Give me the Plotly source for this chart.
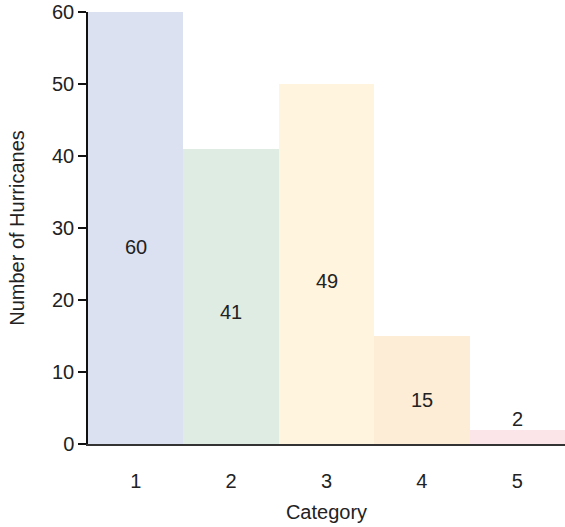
import plotly.graph_objects as go

categories = [1, 2, 3, 4, 5]
counts = [60, 41, 50, 15, 2]
labels = ["60", "41", "49", "15", "2"]
colors = ["#dce1f1", "#deece3", "#fff4dd", "#fdecd6", "#fce5e8"]
y_ticks = [0, 10, 20, 30, 40, 50, 60]

FONT = "Liberation Sans, Arial, sans-serif"
FS = 20

fig = go.Figure()
fig.add_trace(go.Bar(
    x=categories, y=counts, marker=dict(color=colors, line=dict(width=0)),
    width=1.0, hoverinfo="skip",
))

for c, v, t in zip(categories, counts, labels):
    if v >= 10:
        fig.add_annotation(x=c, y=v * 0.47 - 0.9, text=t, showarrow=False,
                           font=dict(size=FS, color="#222", family=FONT),
                           yanchor="middle")
    else:
        fig.add_annotation(x=c, y=v, text=t, showarrow=False,
                           font=dict(size=FS, color="#222", family=FONT),
                           yanchor="bottom", yshift=-2)

fig.update_layout(
    width=565, height=527,
    margin=dict(l=88, r=0, t=12, b=83),
    plot_bgcolor="white", paper_bgcolor="white",
    showlegend=False, bargap=0,
    font=dict(family=FONT, size=FS, color="#222"),
    xaxis=dict(
        range=[0.5, 5.5], tickvals=categories, ticktext=[str(c) for c in categories],
        showgrid=False, zeroline=False, showline=True, linecolor="#333", linewidth=2,
        ticks="", ticklabelstandoff=18,
        title=dict(text="Category", font=dict(size=FS, color="#222"), standoff=14),
        tickfont=dict(size=FS, color="#222"),
    ),
    yaxis=dict(
        range=[0, 60], tickvals=y_ticks, showgrid=False, zeroline=False,
        showline=True, linecolor="#111", linewidth=1.5,
        ticks="outside", ticklen=8, tickwidth=1.5, tickcolor="#111",
        ticklabeloverflow="allow",
        tickfont=dict(size=FS, color="#222"),
        title=dict(text="Number of Hurricanes", font=dict(size=FS, color="#222"), standoff=22),
    ),
)

fig.write_html("out.html", config={"displayModeBar": False},
               post_script="document.body.style.margin='0';")
